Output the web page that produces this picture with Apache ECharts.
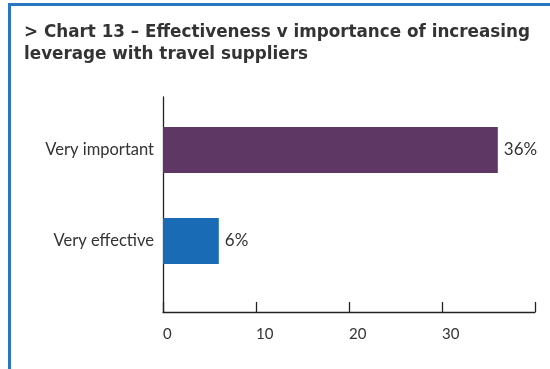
<!DOCTYPE html>
<html><head><meta charset="utf-8">
<script src="https://cdn.jsdelivr.net/npm/echarts@6/dist/echarts.min.js"></script>
<style>html,body{margin:0;padding:0;background:#fff}#c{width:550px;height:369px}</style>
</head><body><div id="c"></div>
<script>
const titleText = '> Chart 13 – Effectiveness v importance of increasing\nleverage with travel suppliers';
const categories = ['Very effective', 'Very important'];
const values = [6, 36];
const barColors = ['#1a6bb5', '#5e3764'];
const xTicks = [0, 10, 20, 30, 40];

const chart = echarts.init(document.getElementById('c'), null, {renderer: 'canvas'});
chart.setOption({
  animation: false,
  backgroundColor: '#fff',
  graphic: [
    {type: 'rect', shape: {x: 8, y: 3, width: 542, height: 3}, style: {fill: '#2a76c0'}},
    {type: 'rect', shape: {x: 8, y: 3, width: 3, height: 366}, style: {fill: '#2a76c0'}},
    {type: 'text', left: 24, top: 22, style: {text: titleText, fontFamily: 'DejaVu Sans', fontWeight: 'bold', fontSize: 16.8, fill: '#333', lineHeight: 22}}
  ],
  grid: [
    {left: 163, right: 15, top: 104.5, height: 182},
    {left: 163, right: 15, top: 97, bottom: 57}
  ],
  xAxis: [
    {gridIndex: 0, type: 'value', min: 0, max: 40, interval: 10, show: false},
    {gridIndex: 1, type: 'value', min: 0, max: 40, interval: 10,
     axisLine: {show: true, lineStyle: {color: '#222', width: 1.3}},
     axisTick: {show: true, inside: true, length: 10, lineStyle: {color: '#222', width: 1.3}},
     splitLine: {show: false},
     axisLabel: {color: '#333', fontFamily: 'Lato', fontSize: 15, align: 'left', margin: 15,
       formatter: v => (v === 40 ? '' : String(v))}}
  ],
  yAxis: [
    {gridIndex: 0, type: 'category', data: categories, axisLine: {show: false}, axisTick: {show: false},
     axisLabel: {color: '#333', fontFamily: 'Lato', fontSize: 16.5, margin: 9}},
    {gridIndex: 1, type: 'category', data: [''], axisLine: {show: true, lineStyle: {color: '#222', width: 1.3}},
     axisTick: {show: false}, axisLabel: {show: false}}
  ],
  series: [{
    type: 'bar', xAxisIndex: 0, yAxisIndex: 0, barWidth: 46,
    data: values.map((v, i) => ({value: v, itemStyle: {color: barColors[i]}})),
    label: {show: true, position: 'right', distance: 6, formatter: '{c}%', color: '#333', fontFamily: 'Lato', fontSize: 17}
  }]
});
</script></body></html>
